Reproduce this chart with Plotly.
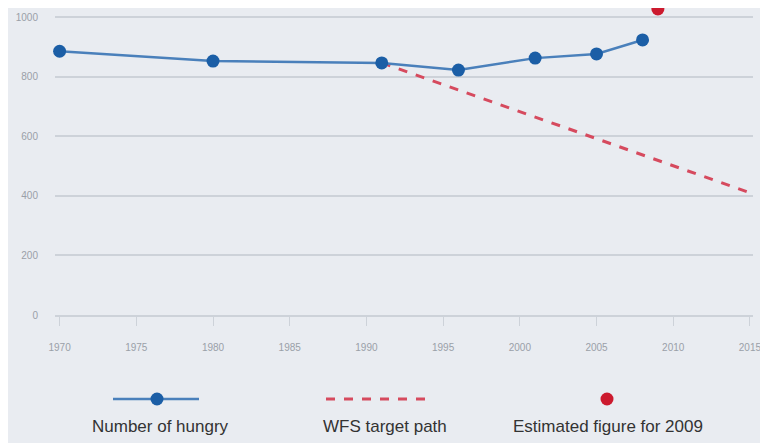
import plotly.graph_objects as go

# Data (millions of hungry people)
years = [1970, 1980, 1991, 1996, 2001, 2005, 2008]
hungry = [885, 852, 846, 822, 862, 876, 923]
wfs_years = [1991, 2015]
wfs_values = [846, 410]
est_year = [2009]
est_value = [1027]
x_ticks = [1970, 1975, 1980, 1985, 1990, 1995, 2000, 2005, 2010, 2015]
y_ticks = [0, 200, 400, 600, 800, 1000]
legend_labels = ["Number of hungry", "WFS target path", "Estimated figure for 2009"]

BLUE_LINE = "#4a80bb"
BLUE_MARK = "#1b5ea6"
RED_DASH = "#d64a5e"
RED_DOT = "#cc1a2e"
BG = "#e9ecf1"
GRID = "#cdd2d9"
TICKTXT = "#9aa0a8"

W, H = 760, 435  # page adds an 8px body margin

fig = go.Figure()

fig.add_trace(go.Scatter(x=wfs_years, y=wfs_values, mode="lines",
                         line=dict(color=RED_DASH, width=3, dash="dash"),
                         showlegend=False, cliponaxis=False))
fig.add_trace(go.Scatter(x=years, y=hungry, mode="lines+markers",
                         line=dict(color=BLUE_LINE, width=2.5),
                         marker=dict(color=BLUE_MARK, size=13),
                         showlegend=False, cliponaxis=False))
fig.add_trace(go.Scatter(x=est_year, y=est_value, mode="markers",
                         marker=dict(color=RED_DOT, size=13),
                         showlegend=False, cliponaxis=False))

# Custom legend drawn on a helper axis
fig.add_trace(go.Scatter(x=[113, 199], y=[399, 399], mode="lines",
                         line=dict(color=BLUE_LINE, width=2.5),
                         xaxis="x2", yaxis="y2", showlegend=False))
fig.add_trace(go.Scatter(x=[157], y=[399], mode="markers",
                         marker=dict(color=BLUE_MARK, size=13),
                         xaxis="x2", yaxis="y2", showlegend=False))
fig.add_trace(go.Scatter(x=[326, 432], y=[399, 399], mode="lines",
                         line=dict(color=RED_DASH, width=3, dash="dash"),
                         xaxis="x2", yaxis="y2", showlegend=False))
fig.add_trace(go.Scatter(x=[607], y=[399], mode="markers",
                         marker=dict(color=RED_DOT, size=13),
                         xaxis="x2", yaxis="y2", showlegend=False))

for xc, txt in zip([160, 385, 608], legend_labels):
    fig.add_annotation(x=xc, y=426, xref="x2", yref="y2", text=txt,
                       showarrow=False, font=dict(size=17, color="#333333"))

fig.update_layout(
    width=W, height=H,
    margin=dict(l=0, r=0, t=0, b=0),
    paper_bgcolor=BG, plot_bgcolor=BG,
    font=dict(family="Liberation Sans, Arial, sans-serif"),
    showlegend=False,
    xaxis=dict(domain=[47 / W, 745 / W], range=[1969.7, 2015.2],
               tickmode="array", tickvals=x_ticks,
               ticktext=[str(t) for t in x_ticks],
               showgrid=False, zeroline=False,
               showline=True, linecolor=GRID, linewidth=1.5,
               ticks="outside", ticklen=9, tickcolor=GRID,
               ticklabelstandoff=13,
               tickfont=dict(size=10, color=TICKTXT), automargin=False),
    yaxis=dict(domain=[(H - 307) / H, 1], range=[0, 307 / 0.298],
               tickmode="array", tickvals=y_ticks,
               showgrid=True, gridcolor=GRID, gridwidth=1.5,
               zeroline=False, showline=False,
               ticks="outside", ticklen=14, tickcolor="rgba(0,0,0,0)",
               tickfont=dict(size=10, color=TICKTXT), automargin=False),
    xaxis2=dict(domain=[0, 1], range=[8, 768], visible=False,
                fixedrange=True, anchor="y2"),
    yaxis2=dict(domain=[0, 70 / H], range=[443, 373], visible=False,
                fixedrange=True, anchor="x2"),
)

fig.write_html("out.html")
